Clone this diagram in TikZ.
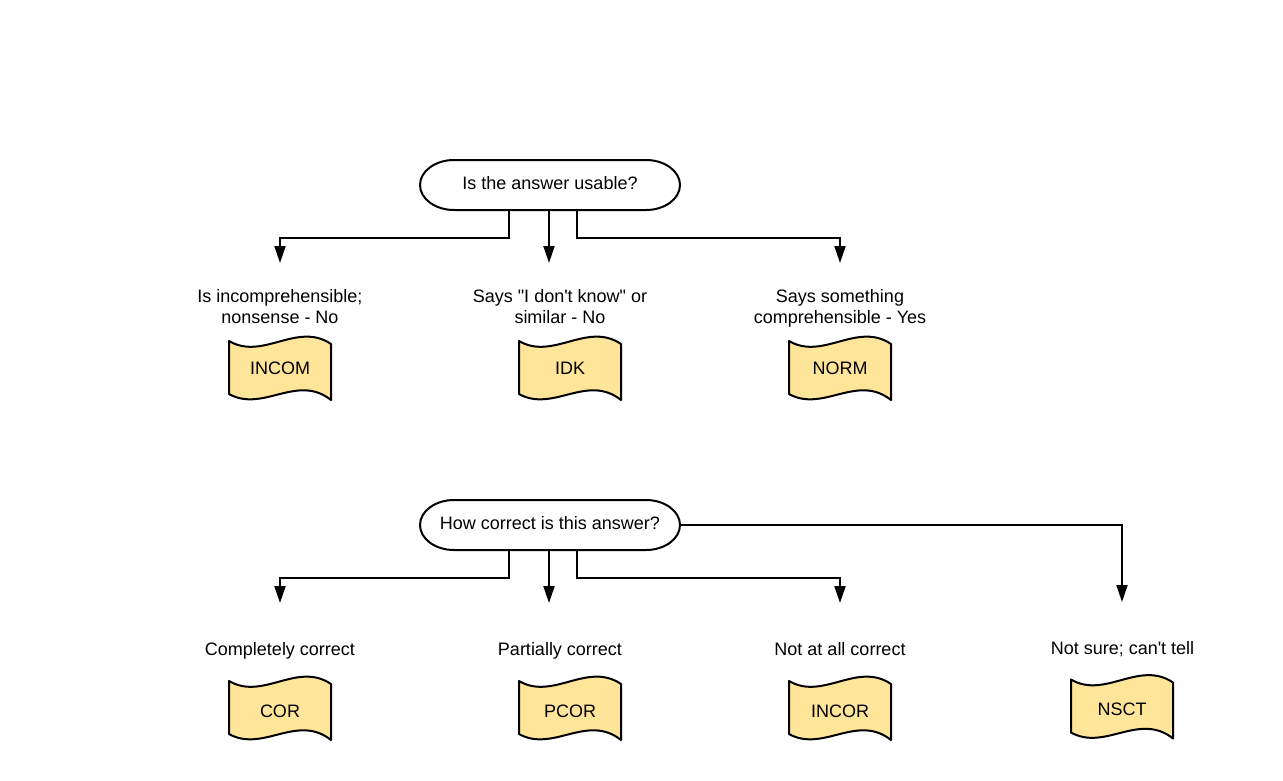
\documentclass[tikz,border=0pt]{standalone}
\usepackage{fontspec}
\newfontfamily\labfont{Liberation Sans}
\usetikzlibrary{arrows.meta}
\definecolor{tapefill}{HTML}{FFE599}
\tikzset{
  x=1pt, y=1pt,
  every node/.style={font=\labfont\fontsize{18}{21}\selectfont, inner sep=0pt},
  outline/.style={draw=black, line width=2pt, line join=round},
  tapeline/.style={outline, fill=tapefill},
  question/.style={minimum width=260pt, minimum height=50pt},
  captext/.style={text height=13pt, text depth=0pt},
  lbl/.style={align=center, text height=13pt, text depth=4pt},
  flow/.style={draw=black, line width=2pt, -{Triangle[length=17pt,width=11pt]}},
}
% terminator outline around a question node
\newcommand\questionoutline[1]{%
  \begin{scope}[shift={(#1.center)}]
    \draw[outline, fill=white] (-96,25) -- (96,25)
      arc[start angle=90, end angle=-90, x radius=34, y radius=25]
      -- (-96,-25)
      arc[start angle=270, end angle=90, x radius=34, y radius=25] -- cycle;
  \end{scope}}
% punched tape: wavy top and bottom edges
\newcommand\tapeat[1]{%
  \begin{scope}[shift={(#1)}]
    \draw[tapeline] (-51,28)
      .. controls (-17,8) and (17,48) .. (51,25)
      -- (51,-31)
      .. controls (17,-4) and (-17,-44) .. (-51,-25)
      -- cycle;
  \end{scope}}
% #1 name, #2 tape centre (x,y), #3 code, #4 baseline offset of the code
\newcommand\tapenode[4]{%
  \tapeat{#2}
  \node[captext] (#1) at ([yshift=#4]#2) {#3};}
\begin{document}
\begin{tikzpicture}
  \useasboundingbox (0,0) rectangle (1283,-780);

  % first question
  \node[question] (q1) at (550,-185) {};
  \questionoutline{q1}
  \node[captext] at ([yshift=2.5pt]q1.center) {Is the answer usable?};

  \node[lbl] (l1) at (280,-318.7) {Is incomprehensible;\\nonsense - No};
  \node[lbl] (l2) at (560,-318.7) {Says "I don't know" or\\similar - No};
  \node[lbl] (l3) at (840,-318.7) {Says something\\comprehensible - Yes};

  \tapenode{incom}{280,-369}{INCOM}{1pt}
  \tapenode{idk}{570,-369}{IDK}{1pt}
  \tapenode{norm}{840,-369}{NORM}{1pt}

  \coordinate (t1) at (280,-263);
  \coordinate (t2) at (549,-263);
  \coordinate (t3) at (840,-263);
  \draw[flow] ([xshift=-41pt]q1.south) -- ++(0,-28) -| (t1);
  \draw[flow] ([xshift=-1pt]q1.south) -- (t2);
  \draw[flow] ([xshift=27pt]q1.south) -- ++(0,-28) -| (t3);

  % second question
  \node[question] (q2) at (550,-525) {};
  \questionoutline{q2}
  \node[captext] at ([yshift=2pt]q2.center) {How correct is this answer?};

  \node[lbl] (l4) at (280,-650.5) {Completely correct};
  \node[lbl] (l5) at (560,-650.5) {Partially correct};
  \node[lbl] (l6) at (840,-650.5) {Not at all correct};
  \node[lbl] (l7) at (1122.5,-649.5) {Not sure; can't tell};

  \tapenode{cor}{280,-709}{COR}{-2pt}
  \tapenode{pcor}{570,-709}{PCOR}{-2pt}
  \tapenode{incor}{840,-709}{INCOR}{-2pt}
  \tapenode{nsct}{1122,-707.5}{NSCT}{-1.5pt}

  \coordinate (t4) at (280,-603);
  \coordinate (t5) at (549,-603);
  \coordinate (t6) at (840,-603);
  \coordinate (t7) at (1122,-602);
  \draw[flow] ([xshift=-41pt]q2.south) -- ++(0,-28) -| (t4);
  \draw[flow] ([xshift=-1pt]q2.south) -- (t5);
  \draw[flow] ([xshift=27pt]q2.south) -- ++(0,-28) -| (t6);
  \draw[flow] (q2.east) -| (t7);
\end{tikzpicture}
\end{document}
